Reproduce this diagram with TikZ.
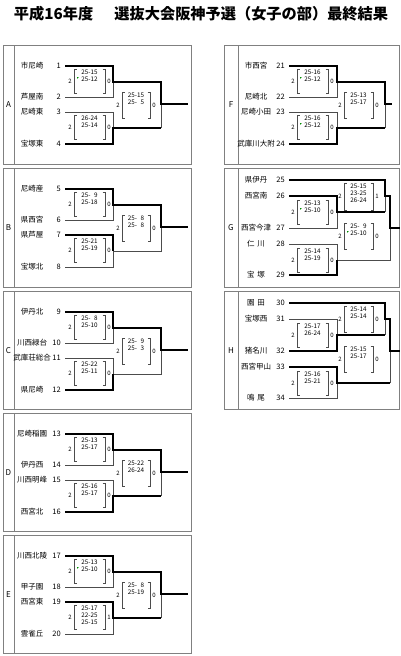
\documentclass[tikz,border=0pt]{standalone}
\usepackage{fontspec}
\setmainfont{Noto Sans CJK JP}
\tikzset{
 thn/.style={line width=0.7pt, draw=black!70},
 thk/.style={line width=2.3pt, draw=black, line join=miter},
 bdr/.style={line width=0.8pt, draw=black!50},
 nm/.style={font=\fontsize{7.5}{8}\selectfont, inner sep=0},
 sd/.style={font=\fontsize{7.5}{8}\selectfont, inner sep=0, anchor=east},
 sc/.style={font=\fontsize{6.3}{6.9}\selectfont, inner sep=0, align=center, anchor=north},
 lb/.style={font=\fontsize{6}{6}\selectfont, inner sep=0},
 pl/.style={font=\fontsize{8}{8}\selectfont, inner sep=0},
 gm/.style={fill=green!55!black},
}
\newcommand\tm[4]{%
 \node[nm] (t#1) at (32,#2) {#3};
 \node[sd] (s#1) at (61,#2) {#4};}
\newcommand\sbx[8]{%
 \draw[thn] ({#1+2.5},#3) -- (#1,#3) -- (#1,#4) -- ({#1+2.5},#4);
 \draw[thn] ({#2-2.5},#3) -- (#2,#3) -- (#2,#4) -- ({#2-2.5},#4);
 \node[lb] (#8l) at ({#1-4},{(#3+#4)/2}) {#5};
 \node[lb] (#8r) at ({#2+4},{(#3+#4)/2}) {#6};
 \node[sc] (#8s) at ({(#1+#2)/2},{#3+1}) {#7};}
\newcommand\gmk[2]{\fill[gm] (#1,#2) -- ++(1.8,0) -- ++(-1.8,1.8) -- cycle;}
\newcommand\ph{\phantom{1}}
\begin{document}
\begin{tikzpicture}[x=1pt,y=-1pt]
\useasboundingbox (0,0) rectangle (400,656);
\node[font=\fontsize{15.2}{15}\selectfont\bfseries, inner sep=0] (title) at (201,14) {平成16年度\hspace{1.4em}選抜大会阪神予選（女子の部）最終結果};
% ---------- A
\begin{scope}[shift={(0,45)}]
 \draw[bdr] (3,0) rectangle (191,119); \draw[bdr] (14,0) -- (14,119);
 \node[pl] (LA) at (8.5,59.5) {A};
 \tm{1}{21}{市尼崎}{1} \tm{2}{52}{芦屋南}{2} \tm{3}{67}{尼崎東}{3} \tm{4}{99}{宝塚東}{4}
 \draw[thn] (65,52) -| (113,37); \draw[thn] (65,67) -| (113,83); \draw[thn] (161,83) -- (161,59);
 \draw[thk] (65,21) -| (113,37) -- (161,37) -- (161,59) -- (188,59);
 \draw[thk] (65,99) -| (113,83) -- (161,83);
 \sbx{74}{105}{24}{48}{2}{0}{25-15\\25-12}{a1} \gmk{77}{32}
 \sbx{74}{105}{70}{94}{2}{0}{26-24\\25-14}{a2}
 \sbx{122}{150}{47}{73}{2}{0}{25-15\\25-\ph5}{a3}
\end{scope}
% ---------- B
\begin{scope}[shift={(0,168)}]
 \draw[bdr] (3,0) rectangle (191,119); \draw[bdr] (14,0) -- (14,119);
 \node[pl] (LB) at (8.5,59.5) {B};
 \tm{5}{21}{尼崎産}{5} \tm{6}{52}{県西宮}{6} \tm{7}{67}{県芦屋}{7} \tm{8}{99}{宝塚北}{8}
 \draw[thn] (65,52) -| (113,37); \draw[thn] (65,99) -| (113,83); \draw[thn] (113,83) -- (161,83) -- (161,59);
 \draw[thk] (65,21) -| (113,37) -- (161,37) -- (161,59) -- (188,59);
 \draw[thk] (65,67) -| (113,83);
 \sbx{74}{105}{24}{48}{2}{0}{25-\ph9\\25-18}{b1}
 \sbx{74}{105}{70}{94}{2}{0}{25-21\\25-19}{b2}
 \sbx{122}{150}{47}{73}{2}{0}{25-\ph8\\25-\ph8}{b3}
\end{scope}
% ---------- C
\begin{scope}[shift={(0,291)}]
 \draw[bdr] (3,0) rectangle (191,118); \draw[bdr] (14,0) -- (14,118);
 \node[pl] (LC) at (8.5,59.5) {C};
 \tm{9}{21}{伊丹北}{9} \tm{10}{52}{川西緑台}{10} \tm{11}{67}{武庫荘総合}{11} \tm{12}{99}{県尼崎}{12}
 \draw[thn] (65,52) -| (113,37); \draw[thn] (65,67) -| (113,83); \draw[thn] (113,83) -- (161,83) -- (161,59);
 \draw[thk] (65,21) -| (113,37) -- (161,37) -- (161,59) -- (188,59);
 \draw[thk] (65,99) -| (113,83);
 \sbx{74}{105}{24}{48}{2}{0}{25-\ph8\\25-10}{c1}
 \sbx{74}{105}{70}{94}{2}{0}{25-22\\25-11}{c2}
 \sbx{122}{150}{47}{73}{2}{0}{25-\ph9\\25-\ph3}{c3}
\end{scope}
% ---------- D
\begin{scope}[shift={(0,413)}]
 \draw[bdr] (3,0) rectangle (191,118); \draw[bdr] (14,0) -- (14,118);
 \node[pl] (LD) at (8.5,59.5) {D};
 \tm{13}{21}{尼崎稲園}{13} \tm{14}{52}{伊丹西}{14} \tm{15}{67}{川西明峰}{15} \tm{16}{99}{西宮北}{16}
 \draw[thn] (65,52) -| (113,37); \draw[thn] (65,67) -| (113,83); \draw[thn] (161,83) -- (161,59);
 \draw[thk] (65,21) -| (113,37) -- (161,37) -- (161,59) -- (188,59);
 \draw[thk] (65,99) -| (113,83) -- (161,83);
 \sbx{74}{105}{24}{48}{2}{0}{25-13\\25-17}{d1}
 \sbx{74}{105}{70}{94}{2}{0}{25-16\\25-17}{d2}
 \sbx{122}{150}{47}{73}{2}{0}{25-22\\26-24}{d3}
\end{scope}
% ---------- E
\begin{scope}[shift={(0,535)}]
 \draw[bdr] (3,0) rectangle (191,118); \draw[bdr] (14,0) -- (14,118);
 \node[pl] (LE) at (8.5,59.5) {E};
 \tm{17}{21}{川西北陵}{17} \tm{18}{52}{甲子園}{18} \tm{19}{67}{西宮東}{19} \tm{20}{99}{雲雀丘}{20}
 \draw[thn] (65,52) -| (113,37); \draw[thn] (65,99) -| (113,83); \draw[thn] (161,83) -- (161,59);
 \draw[thk] (65,21) -| (113,37) -- (161,37) -- (161,59) -- (188,59);
 \draw[thk] (65,67) -| (113,83) -- (161,83);
 \sbx{74}{105}{24}{48}{2}{0}{25-13\\25-10}{e1} \gmk{77}{32}
 \sbx{74}{105}{70}{94}{2}{1}{25-17\\22-25\\25-15}{e2}
 \sbx{122}{150}{47}{73}{2}{0}{25-\ph8\\25-19}{e3}
\end{scope}
% ---------- F
\begin{scope}[shift={(224,45)}]
 \draw[bdr] (0,0) rectangle (175.5,119); \draw[bdr] (14,0) -- (14,119);
 \node[pl] (LF) at (7,59.5) {F};
 \tm{21}{21}{市西宮}{21} \tm{22}{52}{尼崎北}{22} \tm{23}{67}{尼崎小田}{23} \tm{24}{99}{武庫川大附}{24}
 \draw[thn] (65,52) -| (113,37); \draw[thn] (65,67) -| (113,83); \draw[thn] (161,83) -- (161,59);
 \draw[thk] (65,21) -| (113,37) -- (161,37) -- (161,59) -- (168,59);
 \draw[thk] (65,99) -| (113,83) -- (161,83);
 \sbx{73}{104}{24}{48}{2}{0}{25-16\\25-12}{f1} \gmk{76}{32}
 \sbx{73}{104}{70}{94}{2}{0}{25-16\\25-12}{f2} \gmk{76}{78}
 \sbx{120}{149}{47}{73}{2}{0}{25-13\\25-17}{f3}
\end{scope}
% ---------- G
\begin{scope}[shift={(224,168)}]
 \draw[bdr] (0,0) rectangle (175.5,119); \draw[bdr] (14,0) -- (14,119);
 \node[pl] (LG) at (7,59.5) {G};
 \tm{25}{12}{県伊丹}{25} \tm{26}{28}{西宮南}{26} \tm{27}{60}{西宮今津}{27} \tm{28}{76}{仁\hspace{0.4em}川}{28} \tm{29}{107}{宝\hspace{0.4em}塚}{29}
 \draw[thn] (65,60) -| (113,44); \draw[thn] (65,76) -| (113,92);
 \draw[thn] (161,44) -- (161,28); \draw[thn] (113,92) -- (166,92) -- (166,60);
 \draw[thk] (65,12) -- (161,12) -- (161,28) -- (166,28) -- (166,60) -- (175.5,60);
 \draw[thk] (65,28) -| (113,44) -- (161,44);
 \draw[thk] (65,107) -| (113,92);
 \sbx{120}{149}{15}{42}{2}{1}{25-15\\23-25\\26-24}{g1}
 \sbx{73}{104}{32}{56}{2}{0}{25-13\\25-10}{g2} \gmk{76}{40}
 \sbx{120}{149}{55}{81}{2}{0}{25-\ph9\\25-10}{g3} \gmk{123}{63}
 \sbx{73}{104}{80}{104}{2}{0}{25-14\\25-19}{g4}
\end{scope}
% ---------- H
\begin{scope}[shift={(224,291)}]
 \draw[bdr] (0,0) rectangle (175.5,118); \draw[bdr] (14,0) -- (14,118);
 \node[pl] (LH) at (7,59.5) {H};
 \tm{30}{12}{園\hspace{0.4em}田}{30} \tm{31}{28}{宝塚西}{31} \tm{32}{60}{猪名川}{32} \tm{33}{76}{西宮甲山}{33} \tm{34}{107}{鳴\hspace{0.4em}尾}{34}
 \draw[thn] (65,28) -| (113,44); \draw[thn] (65,107) -| (113,92);
 \draw[thn] (161,44) -- (161,28); \draw[thn] (166,92) -- (166,60);
 \draw[thk] (65,12) -- (161,12) -- (161,28) -- (166,28) -- (166,60) -- (175.5,60);
 \draw[thk] (65,60) -| (113,44) -- (161,44);
 \draw[thk] (65,76) -| (113,92) -- (166,92);
 \sbx{120}{149}{15}{41}{2}{0}{25-14\\25-14}{h1}
 \sbx{73}{104}{32}{56}{2}{0}{25-17\\26-24}{h2}
 \sbx{120}{149}{55}{81}{2}{0}{25-15\\25-17}{h3}
 \sbx{73}{104}{80}{104}{2}{0}{25-16\\25-21}{h4}
\end{scope}
\end{tikzpicture}
\end{document}
